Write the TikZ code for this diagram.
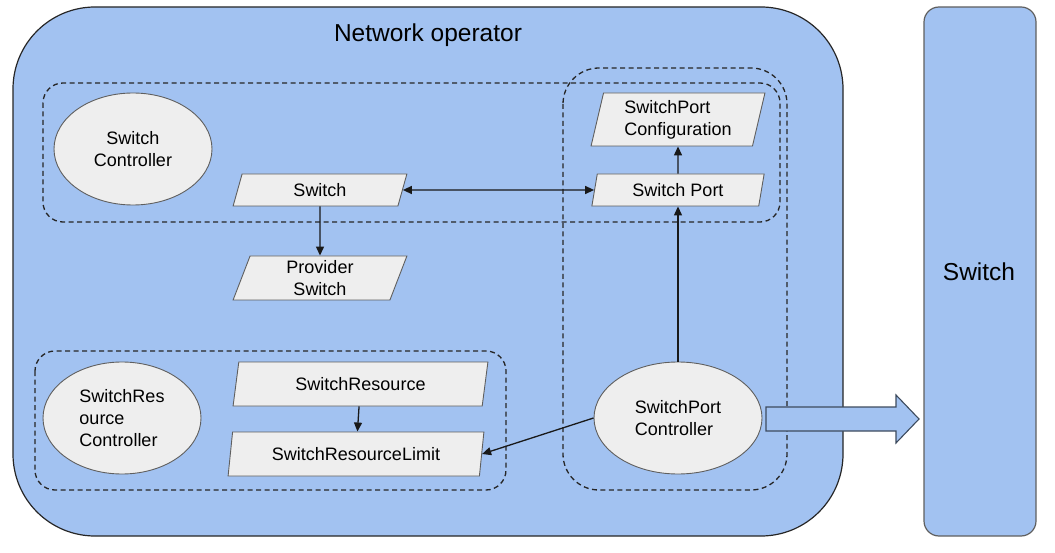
\documentclass[tikz,border=0pt]{standalone}
\usepackage{fontspec}
\setmainfont{Liberation Sans}
\usepackage{tikz}
\usetikzlibrary{arrows.meta,shapes.geometric}

\definecolor{opblue}{HTML}{A2C2F1}
\definecolor{objgray}{HTML}{EEEEEE}
\definecolor{edgegray}{HTML}{5F5F5F}
\definecolor{arrowedge}{HTML}{3D4B5E}

\tikzset{
  opbox/.style={draw=black!85, line width=1.2pt, fill=opblue},
  dashbox/.style={draw=black!85, line width=1.3pt, dash pattern=on 5pt off 3.5pt},
  dataobj/.style={trapezium, trapezium left angle=77, trapezium right angle=103,
    trapezium stretches=true, draw=edgegray, line width=0.9pt, fill=objgray,
    minimum width=174pt, minimum height=32pt, inner sep=0pt,
    font=\fontsize{18}{22}\selectfont, align=center},
  ctrl/.style={ellipse, draw=edgegray, line width=0.9pt, fill=objgray,
    minimum width=158pt, minimum height=112pt, inner sep=0pt,
    font=\fontsize{18}{22}\selectfont, align=center},
  arr/.style={line width=1.3pt, draw=black!90, -{Triangle[length=9pt,width=8pt]}},
}

\begin{document}
\begin{tikzpicture}[x=1pt,y=-1pt]
  \useasboundingbox (0,0) rectangle (1055,553);

  % network operator and switch
  \draw[opbox, rounded corners=82pt] (13,7) rectangle (843,536);
  \node[font=\fontsize{24.5}{28}\selectfont] (optitle) at (428,35) {Network operator};
  \draw[opbox, draw=edgegray, rounded corners=15pt] (924,7) rectangle (1036,536);
  \node[font=\fontsize{24.5}{28}\selectfont] (swtitle) at (979,272) {Switch};

  % groups
  \draw[dashbox, rounded corners=20pt] (43,83) rectangle (780,222);
  \draw[dashbox, rounded corners=36pt] (563,68) rectangle (787,490);
  \draw[dashbox, rounded corners=20pt] (35,351) rectangle (506,490);

  % controllers
  \node[ctrl] (swctrl) at (133,149) {Switch\\Controller};
  \node[ctrl, align=left] (srctrl) at (122,418) {SwitchRes\\ource\\Controller};
  \node[ctrl, minimum width=168pt, align=left] (spctrl) at (678,418) {SwitchPort\\Controller};

  % objects
  \node[dataobj] (sw) at (320,190) {Switch};
  \node[dataobj, minimum height=44pt] (provsw) at (320,278) {Provider\\Switch};
  \node[dataobj, minimum height=53pt, align=left] (spconf) at (678,119.5) {SwitchPort\\Configuration};
  \node[dataobj] (sp) at (678,190) {Switch Port};
  \node[dataobj, minimum width=255pt, minimum height=44pt] (sres) at (360.5,384) {SwitchResource};
  \node[dataobj, minimum width=256pt, minimum height=44pt] (sreslim) at (356,454) {SwitchResourceLimit};

  % links
  \draw[arr, {Triangle[length=9pt,width=8pt]}-{Triangle[length=9pt,width=8pt]}] (sw) -- (sp);
  \draw[arr] (sw) -- (provsw);
  \draw[arr] (sp) -- (spconf);
  \draw[arr] (spctrl) -- (sp);
  \draw[arr] (sres) -- (sreslim);
  \draw[arr] (spctrl.west) -- (sreslim.east);

  % to the switch
  \draw[draw=arrowedge, line width=1.1pt, fill=opblue, line join=miter]
    (766,407) -- (896,407) -- (896,395) -- (919,419) -- (896,443) -- (896,431) -- (766,431) -- cycle;
\end{tikzpicture}
\end{document}
